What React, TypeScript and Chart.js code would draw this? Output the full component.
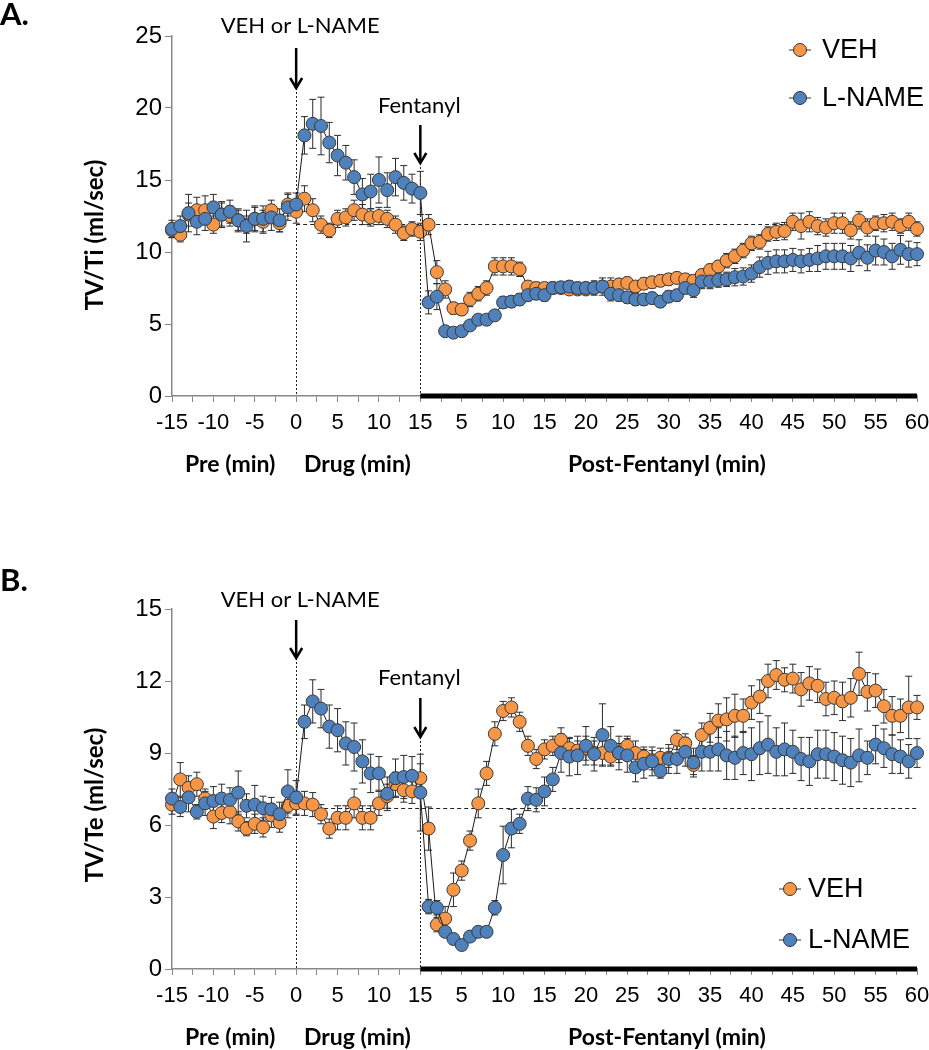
import React, { useEffect, useRef } from "react";
import { Chart, registerables } from "chart.js";
Chart.register(...registerables);

// ---- time axis ----
const preMinutes = [-15, -14, -13, -12, -11, -10, -9, -8, -7, -6, -5, -4, -3, -2, -1, 0];
const drugMinutes = [1, 2, 3, 4, 5, 6, 7, 8, 9, 10, 11, 12, 13, 14, 15];
const postMinutes = [
  1, 2, 3, 4, 5, 6, 7, 8, 9, 10, 11, 12, 13, 14, 15, 16, 17, 18, 19, 20,
  21, 22, 23, 24, 25, 26, 27, 28, 29, 30, 31, 32, 33, 34, 35, 36, 37, 38, 39, 40,
  41, 42, 43, 44, 45, 46, 47, 48, 49, 50, 51, 52, 53, 54, 55, 56, 57, 58, 59, 60,
];
const xTickLabels = ["-15", "-10", "-5", "0", "5", "10", "15", "5", "10", "15", "20", "25", "30", "35", "40", "45", "50", "55", "60"];

// ---- Panel A: TV/Ti ----
const vehTiPre = [11.5, 11.2, 12.6, 12.9, 12.9, 11.9, 12.6, 12.5, 12.2, 11.9, 12.3, 12.1, 12.9, 12.0, 13.3, 12.8];
const vehTiDrug = [13.7, 12.9, 11.9, 11.5, 12.3, 12.4, 12.9, 12.6, 12.4, 12.5, 12.3, 11.9, 11.3, 11.6, 11.4];
const vehTiPost = [
  11.9, 8.6, 7.4, 6.1, 6.0, 6.7, 7.1, 7.5, 9.0, 9.0,
  9.0, 8.8, 7.6, 7.5, 7.5, 7.5, 7.5, 7.4, 7.4, 7.4,
  7.5, 7.6, 7.6, 7.75, 7.85, 7.6, 7.8, 7.9, 8.0, 8.1,
  8.2, 8.1, 8.0, 8.4, 8.75, 9.0, 9.4, 9.7, 10.1, 10.6,
  10.7, 11.25, 11.4, 11.45, 12.1, 11.8, 12.1, 11.8, 11.7, 12.0,
  12.0, 11.5, 12.2, 11.7, 12.0, 12.0, 12.1, 11.8, 12.1, 11.6,
];
const lnameTiPre = [11.6, 11.8, 12.7, 12.1, 12.3, 13.1, 12.6, 12.8, 12.2, 11.8, 12.3, 12.3, 12.4, 12.2, 13.1, 13.3];
const lnameTiDrug = [18.1, 18.9, 18.75, 17.6, 16.7, 16.2, 15.2, 14.0, 14.2, 15.0, 14.3, 15.2, 14.8, 14.4, 14.1];
const lnameTiPost = [
  6.5, 6.9, 4.5, 4.4, 4.5, 4.9, 5.3, 5.3, 5.6, 6.5,
  6.55, 6.7, 7.0, 7.1, 7.0, 7.5, 7.55, 7.6, 7.5, 7.5,
  7.5, 7.6, 7.1, 7.0, 6.85, 6.7, 6.7, 6.8, 6.55, 6.9,
  7.0, 7.5, 7.35, 7.95, 7.95, 8.05, 8.1, 8.25, 8.3, 8.5,
  8.95, 9.25, 9.35, 9.35, 9.45, 9.35, 9.45, 9.55, 9.7, 9.7,
  9.7, 9.55, 9.95, 9.6, 10.1, 10.0, 9.7, 10.15, 9.85, 9.85,
];
const vehTiErrPre = [0.5, 0.5, 0.8, 0.9, 1.0, 0.6, 0.9, 0.7, 0.7, 0.6, 0.8, 0.8, 0.7, 0.6, 0.8, 0.8];
const vehTiErrDrug = [0.9, 0.8, 0.6, 0.5, 0.6, 0.6, 0.7, 0.7, 0.6, 0.6, 0.6, 0.6, 0.5, 0.5, 0.6];
const vehTiErrPost = [
  0.7, 0.8, 0.6, 0.4, 0.4, 0.5, 0.5, 0.5, 0.6, 0.6,
  0.6, 0.5, 0.4, 0.4, 0.3, 0.3, 0.3, 0.3, 0.3, 0.3,
  0.3, 0.4, 0.6, 0.4, 0.4, 0.4, 0.4, 0.4, 0.4, 0.4,
  0.4, 0.4, 0.4, 0.4, 0.4, 0.4, 0.5, 0.5, 0.5, 0.5,
  0.5, 0.5, 0.6, 0.6, 0.6, 0.9, 0.7, 0.6, 0.6, 0.7,
  0.7, 0.6, 0.6, 0.6, 0.5, 0.6, 0.6, 0.5, 0.6, 0.5,
];
const lnameTiErrPre = [0.6, 0.7, 1.3, 0.9, 0.8, 0.9, 0.8, 0.8, 0.8, 1.1, 0.9, 0.9, 0.9, 0.8, 0.9, 0.8];
const lnameTiErrDrug = [1.3, 1.7, 2.0, 1.4, 1.4, 1.2, 1.2, 1.1, 1.2, 1.6, 1.2, 1.3, 1.2, 1.0, 1.5];
const lnameTiErrPost = [
  0.8, 0.9, 0.3, 0.3, 0.3, 0.3, 0.3, 0.3, 0.3, 0.4,
  0.4, 0.4, 0.4, 0.4, 0.4, 0.4, 0.4, 0.4, 0.4, 0.4,
  0.5, 0.6, 0.5, 0.4, 0.4, 0.4, 0.4, 0.4, 0.4, 0.4,
  0.4, 0.4, 0.5, 0.5, 0.5, 0.5, 0.5, 0.6, 0.6, 0.6,
  0.7, 0.8, 0.8, 0.8, 0.8, 0.8, 0.8, 0.9, 0.9, 0.9,
  0.9, 0.9, 0.9, 0.9, 1.0, 0.9, 0.9, 1.0, 0.9, 0.8,
];

// ---- Panel B: TV/Te ----
const vehTePre = [6.85, 7.9, 7.55, 7.7, 7.1, 6.35, 6.5, 6.55, 6.15, 5.85, 6.05, 5.9, 6.4, 6.1, 6.8, 6.9];
const vehTeDrug = [6.9, 6.85, 6.45, 5.85, 6.3, 6.3, 6.9, 6.3, 6.3, 6.9, 7.2, 7.7, 7.45, 7.4, 7.95];
const vehTePost = [
  5.85, 1.85, 2.1, 3.3, 4.1, 5.35, 6.9, 8.15, 9.8, 10.75,
  10.9, 10.3, 9.3, 8.75, 9.15, 9.3, 9.55, 9.2, 9.1, 9.2,
  9.0, 9.0, 8.85, 9.0, 9.3, 9.0, 8.85, 8.7, 8.8, 8.8,
  9.55, 9.4, 8.5, 9.75, 10.05, 10.35, 10.4, 10.55, 10.55, 11.1,
  11.35, 12.0, 12.25, 12.05, 12.1, 11.65, 11.9, 11.8, 11.25, 11.3,
  11.15, 11.3, 12.3, 11.55, 11.6, 10.95, 10.55, 10.55, 10.9, 10.9,
];
const lnameTePre = [7.1, 6.75, 7.15, 6.55, 6.9, 7.0, 7.1, 7.05, 7.35, 6.8, 6.85, 6.7, 6.65, 6.45, 7.4, 7.15];
const lnameTeDrug = [10.3, 11.15, 10.85, 10.1, 9.95, 9.4, 9.25, 8.65, 8.15, 8.15, 7.3, 7.95, 8.0, 8.05, 7.35];
const lnameTePost = [
  2.6, 2.55, 1.55, 1.25, 1.0, 1.35, 1.55, 1.55, 2.55, 4.75,
  5.85, 6.05, 7.1, 7.05, 7.4, 7.9, 9.0, 8.85, 8.9, 9.3,
  8.95, 9.75, 9.3, 9.0, 8.9, 8.4, 8.55, 8.65, 8.25, 8.75,
  8.75, 9.05, 8.6, 9.05, 9.05, 9.15, 8.9, 8.8, 9.0, 8.95,
  9.2, 9.35, 9.05, 9.15, 9.05, 8.75, 8.65, 8.95, 8.95, 8.85,
  8.7, 8.6, 8.9, 8.8, 9.35, 9.2, 8.95, 8.85, 8.65, 9.0,
];
const vehTeErrPre = [0.4, 0.7, 0.5, 0.5, 0.4, 0.5, 0.4, 0.5, 0.4, 0.3, 0.4, 0.4, 0.5, 0.4, 0.5, 0.5];
const vehTeErrDrug = [0.5, 0.5, 0.4, 0.4, 0.5, 0.5, 0.6, 0.5, 0.5, 0.5, 0.5, 0.5, 0.5, 0.5, 0.6];
const vehTeErrPost = [
  0.9, 0.3, 0.5, 0.7, 0.4, 0.4, 0.6, 0.5, 0.5, 0.4,
  0.4, 0.4, 0.4, 0.4, 0.4, 0.4, 0.5, 0.4, 0.4, 0.5,
  0.5, 0.5, 0.4, 0.4, 0.4, 0.5, 0.4, 0.4, 0.4, 0.4,
  0.4, 0.4, 0.4, 0.5, 0.6, 0.7, 0.9, 0.9, 0.7, 0.7,
  0.7, 0.7, 0.6, 0.5, 0.6, 0.7, 0.7, 0.7, 0.7, 0.7,
  0.8, 0.8, 0.9, 0.8, 0.7, 0.7, 0.8, 0.7, 1.3, 0.5,
];
const lnameTeErrPre = [0.4, 0.4, 0.6, 0.3, 0.5, 0.6, 0.6, 0.5, 0.9, 0.5, 0.8, 0.5, 0.5, 0.5, 0.9, 0.7];
const lnameTeErrDrug = [0.7, 0.9, 0.8, 0.9, 0.9, 0.9, 1.0, 0.9, 0.8, 0.7, 0.7, 0.8, 0.9, 0.8, 1.6];
const lnameTeErrPost = [
  0.3, 0.3, 0.2, 0.2, 0.2, 0.2, 0.2, 0.2, 0.3, 1.2,
  0.8, 0.4, 0.5, 0.5, 0.6, 0.5, 0.8, 0.8, 0.8, 0.8,
  0.7, 1.3, 0.8, 0.7, 0.7, 0.6, 0.6, 0.6, 0.3, 0.6,
  0.6, 0.6, 0.6, 0.8, 0.8, 0.9, 1.0, 0.9, 0.9, 1.1,
  1.1, 1.2, 1.0, 1.1, 0.9, 0.9, 1.0, 1.0, 1.0, 1.0,
  1.0, 1.0, 1.1, 0.7, 0.8, 0.8, 0.8, 0.7, 0.7, 0.6,
];

const VEH_COLOR = "#F79646";
const LNAME_COLOR = "#4F81BD";

function toPoints(pre: number[], drug: number[], post: number[]) {
  return [
    ...preMinutes.map((m, i) => ({ x: m, y: pre[i] })),
    ...drugMinutes.map((m, i) => ({ x: m, y: drug[i] })),
    ...postMinutes.map((m, i) => ({ x: 15 + m, y: post[i] })),
  ];
}

type PanelCfg = {
  letter: string;
  letterY: number;
  yTitle: string;
  yTitleY: number;
  yMax: number;
  yStep: number;
  baseline: number;
  padTop: number;
  padBottom: number;
  drugTextY: number;
  arrow0: [number, number];
  fentTextY: number;
  arrow15: [number, number];
  legendX: number;
  legendTextX: number;
  legendY: [number, number];
  bottomY: number;
  veh: { x: number; y: number }[];
  lname: { x: number; y: number }[];
  vehErr: number[];
  lnameErr: number[];
};

const panelA: PanelCfg = {
  letter: "A.",
  letterY: 25,
  yTitle: "TV/Ti (ml/sec)",
  yTitleY: 235,
  yMax: 25,
  yStep: 5,
  baseline: 11.92,
  padTop: 36,
  padBottom: 69,
  drugTextY: 33,
  arrow0: [48, 88],
  fentTextY: 113,
  arrow15: [125, 163],
  legendX: 800,
  legendTextX: 822,
  legendY: [50, 98],
  bottomY: 472,
  veh: toPoints(vehTiPre, vehTiDrug, vehTiPost),
  lname: toPoints(lnameTiPre, lnameTiDrug, lnameTiPost),
  vehErr: [...vehTiErrPre, ...vehTiErrDrug, ...vehTiErrPost],
  lnameErr: [...lnameTiErrPre, ...lnameTiErrDrug, ...lnameTiErrPost],
};

const panelB: PanelCfg = {
  letter: "B.",
  letterY: 66,
  yTitle: "TV/Te (ml/sec)",
  yTitleY: 280,
  yMax: 15,
  yStep: 3,
  baseline: 6.72,
  padTop: 84,
  padBottom: 21,
  drugTextY: 82,
  arrow0: [95, 133],
  fentTextY: 160,
  arrow15: [173, 212],
  legendX: 790,
  legendTextX: 808,
  legendY: [364, 415],
  bottomY: 520,
  veh: toPoints(vehTePre, vehTeDrug, vehTePost),
  lname: toPoints(lnameTePre, lnameTeDrug, lnameTePost),
  vehErr: [...vehTeErrPre, ...vehTeErrDrug, ...vehTeErrPost],
  lnameErr: [...lnameTeErrPre, ...lnameTeErrDrug, ...lnameTeErrPost],
};

function drawArrow(ctx: CanvasRenderingContext2D, x: number, top: number, tip: number) {
  ctx.save();
  ctx.strokeStyle = "#000";
  ctx.lineWidth = 2.5;
  ctx.beginPath();
  ctx.moveTo(x, top);
  ctx.lineTo(x, tip - 1);
  ctx.stroke();
  ctx.beginPath();
  ctx.moveTo(x - 6, tip - 10);
  ctx.lineTo(x, tip);
  ctx.lineTo(x + 6, tip - 10);
  ctx.stroke();
  ctx.restore();
}

function makePlugin(p: PanelCfg) {
  return {
    id: "panelAnnotations",
    beforeDatasetsDraw(chart: any) {
      const { ctx, chartArea } = chart;
      const x = chart.scales.x;
      const y = chart.scales.y;
      const y0 = y.getPixelForValue(0);
      ctx.save();
      ctx.strokeStyle = "#222";
      ctx.lineWidth = 1;
      ctx.setLineDash([4, 3]);
      const by = Math.round(y.getPixelForValue(p.baseline)) + 0.5;
      ctx.beginPath();
      ctx.moveTo(x.getPixelForValue(0), by);
      ctx.lineTo(chartArea.right, by);
      ctx.stroke();
      ctx.setLineDash([2, 2]);
      const vlines: [number, number][] = [
        [0, p.arrow0[1]],
        [15, p.arrow15[1]],
      ];
      vlines.forEach(([v, top]) => {
        const px = Math.round(x.getPixelForValue(v)) + 0.5;
        ctx.beginPath();
        ctx.moveTo(px, top);
        ctx.lineTo(px, y0);
        ctx.stroke();
      });
      ctx.setLineDash([]);
      // error bars
      ctx.strokeStyle = "#2b2b2b";
      ctx.lineWidth = 1;
      chart.data.datasets.forEach((ds: any) => {
        ds.data.forEach((pt: any, i: number) => {
          const e = ds.errors[i];
          const px = x.getPixelForValue(pt.x);
          const top = y.getPixelForValue(pt.y + e);
          const bot = y.getPixelForValue(pt.y - e);
          ctx.beginPath();
          ctx.moveTo(px, top);
          ctx.lineTo(px, bot);
          ctx.moveTo(px - 3.5, top);
          ctx.lineTo(px + 3.5, top);
          ctx.moveTo(px - 3.5, bot);
          ctx.lineTo(px + 3.5, bot);
          ctx.stroke();
        });
      });
      ctx.restore();
    },
    afterDraw(chart: any) {
      const { ctx, chartArea } = chart;
      const x = chart.scales.x;
      const y = chart.scales.y;
      const y0 = y.getPixelForValue(0);
      const x0 = x.getPixelForValue(0);
      const x15 = x.getPixelForValue(15);
      ctx.save();
      // thick post-fentanyl bar
      ctx.fillStyle = "#000";
      ctx.fillRect(x15, y0 - 2.5, chartArea.right - x15, 5);

      // panel letter
      ctx.fillStyle = "#000";
      ctx.textAlign = "left";
      ctx.textBaseline = "alphabetic";
      ctx.font = "bold 31px Lato";
      ctx.fillText(p.letter, 0, p.letterY);

      // drug annotation
      ctx.font = "22px Lato";
      ctx.textAlign = "center";
      ctx.fillText("VEH or L-NAME", x0 + 4, p.drugTextY);
      drawArrow(ctx, x0, p.arrow0[0], p.arrow0[1]);
      ctx.textAlign = "left";
      ctx.fillText("Fentanyl", 378, p.fentTextY);
      drawArrow(ctx, x15, p.arrow15[0], p.arrow15[1]);

      // y title
      ctx.save();
      ctx.translate(95, p.yTitleY);
      ctx.rotate(-Math.PI / 2);
      ctx.textAlign = "center";
      ctx.textBaseline = "middle";
      ctx.font = "bold 24px Lato";
      ctx.fillText(p.yTitle, 0, 0);
      ctx.restore();

      // period labels
      ctx.font = "bold 23px Lato";
      ctx.textAlign = "left";
      ctx.textBaseline = "alphabetic";
      ctx.fillText("Pre (min)", 185, p.bottomY);
      ctx.fillText("Drug (min)", 304, p.bottomY);
      ctx.fillText("Post-Fentanyl (min)", 568, p.bottomY);

      // legend
      const items: [string, string][] = [
        ["VEH", VEH_COLOR],
        ["L-NAME", LNAME_COLOR],
      ];
      items.forEach(([label, color], i) => {
        const my = p.legendY[i];
        ctx.strokeStyle = "#333";
        ctx.lineWidth = 1;
        ctx.beginPath();
        ctx.moveTo(p.legendX - 11, my);
        ctx.lineTo(p.legendX + 11, my);
        ctx.stroke();
        ctx.beginPath();
        ctx.arc(p.legendX, my, 6.5, 0, Math.PI * 2);
        ctx.fillStyle = color;
        ctx.fill();
        ctx.stroke();
        ctx.fillStyle = "#000";
        ctx.font = "27px 'Liberation Sans'";
        ctx.textBaseline = "middle";
        ctx.fillText(label, p.legendTextX, my + 1);
      });
      ctx.restore();
    },
  };
}

function Panel({ cfg }: { cfg: PanelCfg }) {
  const ref = useRef<HTMLCanvasElement | null>(null);
  useEffect(() => {
    if (!ref.current) return;
    const tickFont = { family: "'Liberation Sans'", size: 22 };
    const yTickFont = { family: "'Liberation Sans'", size: 24 };
    const chart = new Chart(ref.current, {
      type: "line",
      data: {
        datasets: [
          {
            label: "VEH",
            data: cfg.veh,
            errors: cfg.vehErr,
            order: 1,
            borderColor: "#1a1a1a",
            borderWidth: 1,
            pointRadius: 6.5,
            pointBackgroundColor: VEH_COLOR,
            pointBorderColor: "#3a3a3a",
            pointBorderWidth: 1,
            clip: false,
          } as any,
          {
            label: "L-NAME",
            data: cfg.lname,
            errors: cfg.lnameErr,
            order: 0,
            borderColor: "#1a1a1a",
            borderWidth: 1,
            pointRadius: 6.5,
            pointBackgroundColor: LNAME_COLOR,
            pointBorderColor: "#3a3a3a",
            pointBorderWidth: 1,
            clip: false,
          } as any,
        ],
      },
      options: {
        responsive: false,
        animation: false,
        devicePixelRatio: 1,
        layout: { padding: { left: 0, right: 12, top: cfg.padTop, bottom: cfg.padBottom } },
        plugins: { legend: { display: false }, tooltip: { enabled: false } },
        scales: {
          x: {
            type: "linear",
            min: -15,
            max: 75,
            afterFit: (s: any) => {
              s.height = 60;
              s.paddingLeft = 0;
              s.paddingRight = 0;
            },
            ticks: {
              stepSize: 2.5,
              autoSkip: false,
              maxRotation: 0,
              minRotation: 0,
              color: "#000",
              font: tickFont,
              padding: 8,
              callback: (v: any) => {
                const n = Number(v);
                if (Math.abs(n / 5 - Math.round(n / 5)) > 1e-6) return "";
                return xTickLabels[Math.round((n + 15) / 5)];
              },
            },
            grid: { drawOnChartArea: false, drawTicks: true, tickLength: 6, color: "#888", tickColor: "#888" },
            border: { color: "#888", width: 1.5 },
          },
          y: {
            min: 0,
            max: cfg.yMax,
            afterFit: (s: any) => {
              s.width = 172;
              s.paddingTop = 0;
              s.paddingBottom = 0;
            },
            ticks: { stepSize: cfg.yStep, color: "#000", font: yTickFont, padding: 3 },
            grid: { drawOnChartArea: false, drawTicks: true, tickLength: 7, color: "#888", tickColor: "#888" },
            border: { color: "#888", width: 1.5 },
          },
        },
      } as any,
      plugins: [makePlugin(cfg)],
    });
    return () => chart.destroy();
  }, [cfg]);
  return <canvas ref={ref} width={929} height={525} style={{ display: "block", width: 929, height: 525 }} />;
}

export default function App() {
  return (
    <div style={{ position: "absolute", left: 0, top: 0, width: 929, height: 1050, background: "#fff" }}>
      <Panel cfg={panelA} />
      <Panel cfg={panelB} />
    </div>
  );
}
